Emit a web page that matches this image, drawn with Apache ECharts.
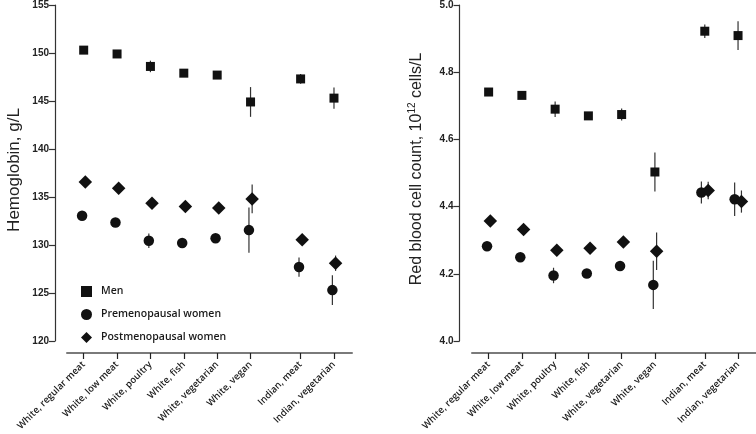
<!DOCTYPE html>
<html>
<head>
<meta charset="utf-8">
<script src="https://cdn.jsdelivr.net/npm/echarts@6/dist/echarts.min.js"></script>
<style>html,body{margin:0;padding:0;background:#fff}#c{width:756px;height:434px}</style>
</head>
<body>
<div id="c"></div>
<script>
// ---- data ----
const categories = ['White, regular meat','White, low meat','White, poultry','White, fish','White, vegetarian','White, vegan','Indian, meat','Indian, vegetarian'];
const xPos = [1,2,3,4,5,6,7.5,8.5];
const groups = ['Men','Premenopausal women','Postmenopausal women'];

const hbMen     = [150.3,149.9,148.6,147.9,147.7,144.9,147.3,145.3];
const hbMenErr  = [0.2,0.2,0.6,0.2,0.25,1.55,0.5,1.1];
const hbPre     = [133.05,132.35,130.45,130.2,130.7,131.55,127.7,125.3];
const hbPreErr  = [0.3,0.3,0.75,0.3,0.4,2.35,1.0,1.55];
const hbPost    = [136.55,135.9,134.35,134.0,133.85,134.8,130.55,128.1];
const hbPostErr = [0.3,0.3,0.4,0.4,0.4,1.5,0.4,0.8];

const rbcMen     = [4.741,4.731,4.690,4.670,4.674,4.503,4.922,4.909];
const rbcMenErr  = [0.005,0.005,0.023,0.008,0.018,0.058,0.02,0.043];
const rbcPre     = [4.282,4.249,4.195,4.201,4.223,4.167,4.442,4.422];
const rbcPreErr  = [0.005,0.005,0.023,0.006,0.008,0.072,0.033,0.05];
const rbcPost    = [4.357,4.332,4.270,4.276,4.295,4.267,4.448,4.415];
const rbcPostErr = [0.005,0.005,0.008,0.008,0.008,0.056,0.026,0.033];

const hbTicks = [120,125,130,135,140,145,150,155];
const rbcTicks = [4.0,4.2,4.4,4.6,4.8,5.0];

// ---- styles ----
const INK = '#111';
const shapes = ['square','circle','diamond'];
const sizes = {square:9, circle:10.5, diamond:13.5};
// pixel dodge per group, per chart
const dodgeLeft = [[0,0,0,0,0,0,0,0],[-1.6,-1.6,-1.6,-1.6,-1.6,-1.6,-1.6,-1.6],[1.6,1.6,1.6,1.6,1.6,1.6,1.6,1.6]];
const dodgeRight = [[0,0,0,0,0,0,0,0],[-1.6,-1.6,-1.6,-1.6,-1.6,-1.6,-3.4,-3.4],[1.7,1.7,1.7,1.7,1.7,1.7,3.4,3.4]];

function makeSeries(name, gi, vals, errs, axisIdx, dodge){
  const shape = shapes[gi];
  return {
    type:'custom', name, xAxisIndex:axisIdx, yAxisIndex:axisIdx,
    itemStyle:{color:INK},
    data: vals.map((v,i)=>[xPos[i], v, errs[i], i]),
    renderItem(params, api){
      const x = api.value(0), y = api.value(1), e = api.value(2), i = api.value(3);
      const dx = dodge[gi][i];
      const p = api.coord([x,y]), hi = api.coord([x,y+e]), lo = api.coord([x,y-e]);
      const cx = p[0]+dx, cy = p[1];
      const s = sizes[shape];
      let sym;
      if(shape==='square') sym = {type:'rect', shape:{x:cx-s/2,y:cy-s/2,width:s,height:s}, style:{fill:INK}};
      else if(shape==='circle') sym = {type:'circle', shape:{cx, cy, r:s/2}, style:{fill:INK}};
      else sym = {type:'polygon', shape:{points:[[cx,cy-s/2],[cx+s/2,cy],[cx,cy+s/2],[cx-s/2,cy]]}, style:{fill:INK}};
      return {type:'group', children:[
        {type:'line', shape:{x1:cx,y1:hi[1],x2:cx,y2:lo[1]}, style:{stroke:'#333', lineWidth:1.2}},
        sym
      ]};
    }
  };
}

const tickFont = {fontFamily:'Liberation Sans, Arial', fontWeight:'bold', fontSize:10, color:'#222'};
const catFont = {fontFamily:'Open Sans', fontWeight:600, fontSize:9.5, color:'#1a1a1a'};

function xAxis(gridIndex){
  return {
    type:'value', gridIndex, min:0.5, max:9.04, offset:12,
    splitLine:{show:false},
    axisLine:{show:true, lineStyle:{color:'#7a7a7a', width:2}},
    axisTick:{show:true, customValues:xPos, length:6, lineStyle:{color:'#222', width:1.2}},
    axisLabel:{show:true, customValues:xPos, rotate:45, margin:10, ...catFont,
      formatter:(v)=>{const k=xPos.indexOf(v); return k>=0?categories[k]:'';}}
  };
}

const option = {
  animation:false,
  backgroundColor:'#fff',
  grid:[
    {left:67, top:5, width:285, height:336, containLabel:false, outerBoundsMode:'none'},
    {left:472, top:5, width:284, height:336, containLabel:false, outerBoundsMode:'none'}
  ],
  legend:{
    left:76, top:281, orient:'vertical', itemGap:12, itemWidth:11, itemHeight:11,
    textStyle:{fontFamily:'Open Sans', fontWeight:600, fontSize:10.5, color:'#1a1a1a', padding:[0,0,0,4]},
    data:[{name:groups[0], icon:'rect'},{name:groups[1], icon:'circle'},{name:groups[2], icon:'diamond'}]
  },
  xAxis:[xAxis(0), xAxis(1)],
  yAxis:[
    {type:'value', gridIndex:0, min:hbTicks[0], max:hbTicks[hbTicks.length-1], interval:5, offset:12,
     splitLine:{show:false},
     axisLine:{show:true, lineStyle:{color:'#333', width:1.2}},
     axisTick:{show:true, length:6, lineStyle:{color:'#333', width:1.2}},
     axisLabel:{...tickFont, margin:6},
     name:'Hemoglobin, g/L', nameLocation:'middle', nameGap:32,
     nameTextStyle:{fontFamily:'Liberation Sans, Arial', fontSize:17, color:'#222', padding:[0,0,0,6]}},
    {type:'value', gridIndex:1, min:rbcTicks[0], max:rbcTicks[rbcTicks.length-1], interval:0.2, offset:12.5,
     splitLine:{show:false},
     axisLine:{show:true, lineStyle:{color:'#333', width:1.2}},
     axisTick:{show:true, length:6, lineStyle:{color:'#333', width:1.2}},
     axisLabel:{...tickFont, margin:6, formatter:(v)=>v.toFixed(1)},
     name:'Red blood cell count, 10{sup|12} cells/L', nameLocation:'middle', nameGap:34,
     nameTextStyle:{fontFamily:'Liberation Sans, Arial', fontSize:16, color:'#222', padding:[0,0,0,8],
       rich:{sup:{fontFamily:'Liberation Sans, Arial', fontSize:10, color:'#222', verticalAlign:'top', padding:[0,0,8,0]}}}}
  ],
  series:[
    makeSeries(groups[0],0,hbMen,hbMenErr,0,dodgeLeft),
    makeSeries(groups[1],1,hbPre,hbPreErr,0,dodgeLeft),
    makeSeries(groups[2],2,hbPost,hbPostErr,0,dodgeLeft),
    makeSeries(groups[0],0,rbcMen,rbcMenErr,1,dodgeRight),
    makeSeries(groups[1],1,rbcPre,rbcPreErr,1,dodgeRight),
    makeSeries(groups[2],2,rbcPost,rbcPostErr,1,dodgeRight)
  ]
};
const chart = echarts.init(document.getElementById('c'), null, {renderer:'canvas'});
chart.setOption(option);
</script>
</body>
</html>
